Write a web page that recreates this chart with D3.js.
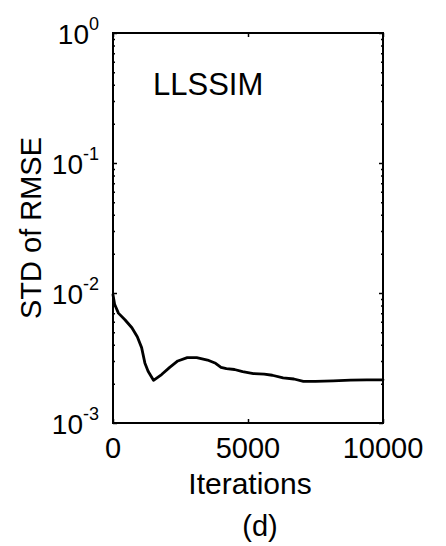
<!DOCTYPE html>
<html>
<head>
<meta charset="utf-8">
<script src="https://cdn.jsdelivr.net/npm/d3@7"></script>
<style>
  html, body { margin: 0; padding: 0; background: #fff; }
  svg { display: block; font-family: "Liberation Sans", Arial, Helvetica, sans-serif; }
</style>
</head>
<body>
<svg id="chart" width="446" height="546"></svg>
<script>
// ---- data ----
const iterations = [0, 60, 200, 450, 700, 900, 1060, 1180, 1300, 1500, 1800, 2100, 2400, 2750, 3100, 3500, 3800, 4000, 4200, 4500, 4800, 5200, 5600, 5900, 6300, 6700, 7050, 7500, 8150, 8800, 9400, 10000];
const stdRmse   = [0.0097, 0.0082, 0.0070, 0.0062, 0.0054, 0.0046, 0.0038, 0.0029, 0.0025, 0.00213, 0.00236, 0.00268, 0.00300, 0.00318, 0.00318, 0.00305, 0.00288, 0.00268, 0.00262, 0.00258, 0.00248, 0.00240, 0.00238, 0.00233, 0.00222, 0.00218, 0.00209, 0.00209, 0.00211, 0.00214, 0.00215, 0.00215];
const xTicks = [0, 5000, 10000];
const yTicks = [1, 0.1, 0.01, 0.001];
const yTickExp = ["0", "-1", "-2", "-3"];
const titleText = "LLSSIM";
const xLabel = "Iterations";
const yLabel = "STD of RMSE";
const caption = "(d)";

// ---- layout ----
const L = 113, R = 383, T = 33, B = 423;
const svg = d3.select("#chart");

const x = d3.scaleLinear().domain([0, 10000]).range([L, R]);
const y = d3.scaleLog().domain([0.001, 1]).range([B, T]);

// minor log ticks
const minor = [];
for (let e = -3; e < 0; e++) {
  for (let m = 2; m <= 9; m++) minor.push(m * Math.pow(10, e));
}

const g = svg.append("g");

// y-axis ticks (left & right, inward)
const yAxisL = d3.axisLeft(y).tickValues(yTicks).tickSize(-4).tickFormat("");
const yAxisR = d3.axisRight(y).tickValues(yTicks).tickSize(-4).tickFormat("");
const yMinL = d3.axisLeft(y).tickValues(minor).tickSize(-2).tickFormat("");
const yMinR = d3.axisRight(y).tickValues(minor).tickSize(-2).tickFormat("");
const xAxisB = d3.axisBottom(x).tickValues(xTicks).tickSize(-4).tickFormat("");
const xAxisT = d3.axisTop(x).tickValues(xTicks).tickSize(-4).tickFormat("");

[[yAxisL, `translate(${L},0)`], [yMinL, `translate(${L},0)`],
 [yAxisR, `translate(${R},0)`], [yMinR, `translate(${R},0)`],
 [xAxisB, `translate(0,${B})`], [xAxisT, `translate(0,${T})`]].forEach(([ax, tr]) => {
  const a = g.append("g").attr("transform", tr).call(ax);
  a.select(".domain").remove();
  a.selectAll("line").attr("stroke", "#000").attr("stroke-width", 1.5);
});

// box
g.append("rect")
  .attr("x", L).attr("y", T).attr("width", R - L).attr("height", B - T)
  .attr("fill", "none").attr("stroke", "#000").attr("stroke-width", 2);

// curve
const line = d3.line().x((d, i) => x(iterations[i])).y(d => y(d)).curve(d3.curveLinear);
g.append("path")
  .datum(stdRmse)
  .attr("d", line)
  .attr("fill", "none").attr("stroke", "#000")
  .attr("stroke-width", 2.8).attr("stroke-linejoin", "round").attr("stroke-linecap", "round");

// x tick labels
g.selectAll(".xt").data(xTicks).enter().append("text")
  .attr("x", d => x(d)).attr("y", 458)
  .attr("text-anchor", "middle").attr("font-size", 29).attr("fill", "#000")
  .text(d => d);

// y tick labels: 10 with superscript
yTicks.forEach((v, i) => {
  const t = g.append("text")
    .attr("x", 99).attr("y", y(v) + 11)
    .attr("text-anchor", "end").attr("font-size", 28).attr("fill", "#000");
  t.append("tspan").text("10");
  t.append("tspan").attr("font-size", 18).attr("dy", -14).text(yTickExp[i]);
});

// title inside
g.append("text").attr("x", 153).attr("y", 95)
  .attr("font-size", 31).attr("fill", "#000").text(titleText);

// x label
g.append("text").attr("x", 250).attr("y", 494)
  .attr("text-anchor", "middle").attr("font-size", 30).attr("fill", "#000").text(xLabel);

// caption
g.append("text").attr("x", 260).attr("y", 536)
  .attr("text-anchor", "middle").attr("font-size", 29).attr("fill", "#000").text(caption);

// y label
g.append("text")
  .attr("transform", `translate(41,${(T + B) / 2}) rotate(-90)`)
  .attr("text-anchor", "middle").attr("font-size", 29).attr("fill", "#000").text(yLabel);
</script>
</body>
</html>
